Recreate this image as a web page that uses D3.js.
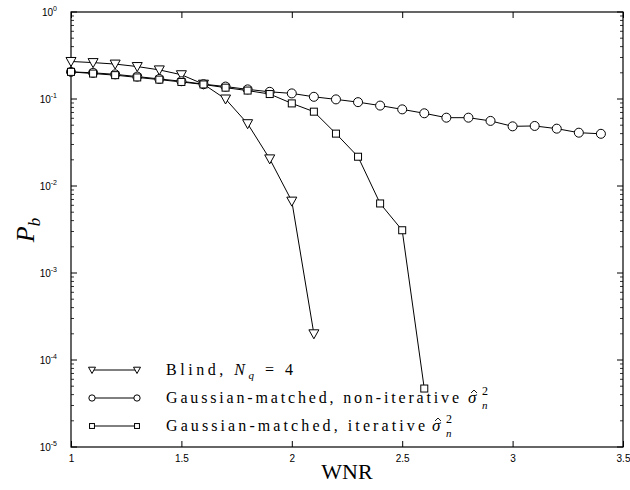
<!DOCTYPE html>
<html>
<head>
<meta charset="utf-8">
<script src="https://cdn.jsdelivr.net/npm/d3@7"></script>
<style>
  body { margin: 0; background: #fff; }
  svg { display: block; }
</style>
</head>
<body>
<svg id="chart" width="630" height="490"></svg>
<script>
// values
const blindX = [1.0, 1.1, 1.2, 1.3, 1.4, 1.5, 1.6, 1.7, 1.8, 1.9, 2.0, 2.1];
const blindY = [0.27, 0.262, 0.252, 0.236, 0.216, 0.19, 0.148, 0.1, 0.052, 0.0205, 0.0067, 0.0002];

const nonIterX = [1.0, 1.1, 1.2, 1.3, 1.4, 1.5, 1.6, 1.7, 1.8, 1.9, 2.0, 2.1, 2.2,
  2.3, 2.4, 2.5, 2.6, 2.7, 2.8, 2.9, 3.0, 3.1, 3.2, 3.3, 3.4];
const nonIterY = [0.205, 0.2, 0.192, 0.181, 0.17, 0.16, 0.148, 0.139, 0.129, 0.121, 0.116,
  0.106, 0.099, 0.092, 0.084, 0.076, 0.0685, 0.061, 0.061, 0.056, 0.0485, 0.049, 0.0456,
  0.041, 0.0398];

const iterX = [1.0, 1.1, 1.2, 1.3, 1.4, 1.5, 1.6, 1.7, 1.8, 1.9, 2.0, 2.1, 2.2, 2.3, 2.4, 2.5, 2.6];
const iterY = [0.205, 0.196, 0.188, 0.177, 0.167, 0.157, 0.147, 0.135, 0.125, 0.114, 0.089,
  0.0715, 0.04, 0.0217, 0.0063, 0.0031, 0.000047];

const xTicks = [1, 1.5, 2, 2.5, 3, 3.5];
const yExps = [0, -1, -2, -3, -4, -5];

const series = [
  { name: "blind", xs: blindX, ys: blindY, marker: "tri" },
  { name: "nonIter", xs: nonIterX, ys: nonIterY, marker: "circle" },
  { name: "iter", xs: iterX, ys: iterY, marker: "square" },
];

const margin = { left: 71, right: 7, top: 12, bottom: 43 };
const width = 630, height = 490;

const svg = d3.select("#chart");

const x = d3.scaleLinear().domain([1, 3.5]).range([margin.left, width - margin.right]);
const y = d3.scaleLog().domain([1e-5, 1]).range([height - margin.bottom, margin.top]);

const tickFont = "Liberation Sans, Arial, sans-serif";
const serif = "Liberation Serif, Times New Roman, serif";

// frame
svg.append("rect")
  .attr("x", x(1)).attr("y", y(1))
  .attr("width", x(3.5) - x(1)).attr("height", y(1e-5) - y(1))
  .attr("fill", "none").attr("stroke", "#000").attr("stroke-width", 1.2);

// x ticks (inside, bottom and top)
const xAxisB = d3.axisBottom(x).tickValues(xTicks).tickSizeInner(-6).tickSizeOuter(0)
  .tickFormat(d3.format("~g"));
const gxb = svg.append("g").attr("transform", `translate(0,${y(1e-5)})`).call(xAxisB);
gxb.select(".domain").remove();
gxb.selectAll("text").attr("font-family", tickFont).attr("font-size", 10).attr("dy", "1.2em");

const xAxisT = d3.axisTop(x).tickValues(xTicks).tickSizeInner(-6).tickSizeOuter(0).tickFormat("");
const gxt = svg.append("g").attr("transform", `translate(0,${y(1)})`).call(xAxisT);
gxt.select(".domain").remove();

// y ticks: majors + minors, inside, left and right
const majors = yExps.map(e => Math.pow(10, e));
const minors = [];
for (const e of yExps.slice(1)) {
  for (let k = 2; k <= 9; k++) minors.push(k * Math.pow(10, e));
}

function yTicks(side) {
  const dir = side === "left" ? 1 : -1;
  const x0 = side === "left" ? x(1) : x(3.5);
  const g = svg.append("g");
  g.selectAll("line.major").data(majors).join("line")
    .attr("x1", x0).attr("x2", x0 + dir * 6)
    .attr("y1", d => y(d)).attr("y2", d => y(d))
    .attr("stroke", "#000");
  g.selectAll("line.minor").data(minors).join("line")
    .attr("x1", x0).attr("x2", x0 + dir * 3)
    .attr("y1", d => y(d)).attr("y2", d => y(d))
    .attr("stroke", "#000").attr("stroke-width", 0.8);
}
yTicks("left");
yTicks("right");

const yLab = svg.append("g").selectAll("text").data(yExps).join("text")
  .attr("x", x(1) - 14).attr("y", d => y(Math.pow(10, d)) + 4)
  .attr("text-anchor", "end")
  .attr("font-family", tickFont).attr("font-size", 10);
yLab.append("tspan").text("10");
yLab.append("tspan").attr("font-size", 7).attr("dy", -5).text(d => d);

// lines
const line = d3.line().x(d => x(d[0])).y(d => y(d[1]));
for (const s of series) {
  const pts = s.xs.map((v, i) => [v, s.ys[i]]);
  svg.append("path").datum(pts).attr("d", line)
    .attr("fill", "none").attr("stroke", "#000").attr("stroke-width", 1);
  s.pts = pts;
}

function drawMarker(g, m, cx, cy, k) {
  if (m === "tri") {
    g.append("path")
      .attr("d", `M${cx - 5 * k},${cy - 4 * k}L${cx + 5 * k},${cy - 4 * k}L${cx},${cy + 5 * k}Z`)
      .attr("fill", "#fff").attr("stroke", "#000");
  } else if (m === "circle") {
    g.append("circle").attr("cx", cx).attr("cy", cy).attr("r", 4.5 * k)
      .attr("fill", "#fff").attr("stroke", "#000");
  } else {
    g.append("rect").attr("x", cx - 3.5 * k).attr("y", cy - 3.5 * k)
      .attr("width", 7 * k).attr("height", 7 * k)
      .attr("fill", "#fff").attr("stroke", "#000");
  }
}

const gm = svg.append("g");
for (const s of series) {
  for (const p of s.pts) drawMarker(gm, s.marker, x(p[0]), y(p[1]), 1);
}

// legend
const legY = [370, 398, 426];
const gl = svg.append("g");
series.forEach((s, i) => {
  gl.append("line").attr("x1", 92).attr("x2", 137).attr("y1", legY[i]).attr("y2", legY[i])
    .attr("stroke", "#000");
  drawMarker(gl, s.marker, 92, legY[i], 0.7);
  drawMarker(gl, s.marker, 137, legY[i], 0.7);
});

function legText(i, len) {
  return gl.append("text").attr("x", 166).attr("y", legY[i] + 5)
    .attr("font-family", serif).attr("font-size", 16)
    .attr("textLength", len).attr("lengthAdjust", "spacing");
}
const t0 = legText(0, 127);
t0.append("tspan").text("Blind, ");
t0.append("tspan").attr("font-style", "italic").text("N");
t0.append("tspan").attr("font-style", "italic").attr("font-size", 11).attr("dy", 4).text("q");
t0.append("tspan").attr("dy", -4).text(" = 4");

function sigma(x0, i) {
  const base = legY[i] + 5;
  gl.append("text").attr("x", x0).attr("y", base)
    .attr("font-family", serif).attr("font-size", 17).attr("font-style", "italic").text("\u03C3");
  gl.append("path")
    .attr("d", `M${x0 + 3},${base - 10}L${x0 + 6},${base - 13}L${x0 + 9},${base - 10}`)
    .attr("fill", "none").attr("stroke", "#000").attr("stroke-width", 0.9);
  gl.append("text").attr("x", x0 + 14).attr("y", base - 8)
    .attr("font-family", serif).attr("font-size", 12).text("2");
  gl.append("text").attr("x", x0 + 14).attr("y", base + 6)
    .attr("font-family", serif).attr("font-size", 11).attr("font-style", "italic").text("n");
}
legText(1, 293).text("Gaussian-matched, non-iterative");
sigma(468, 1);
legText(2, 259).text("Gaussian-matched, iterative");
sigma(432, 2);

// axis titles
svg.append("text").attr("x", (x(1) + x(3.5)) / 2).attr("y", 479)
  .attr("text-anchor", "middle").attr("font-family", serif).attr("font-size", 22)
  .text("WNR");

const py = svg.append("text").attr("transform", "translate(34,230) rotate(-90)")
  .attr("text-anchor", "middle").attr("font-family", serif).attr("font-size", 26);
py.append("tspan").attr("font-style", "italic").text("P");
py.append("tspan").attr("font-style", "italic").attr("font-size", 17).attr("dy", 6).text("b");
</script>
</body>
</html>
